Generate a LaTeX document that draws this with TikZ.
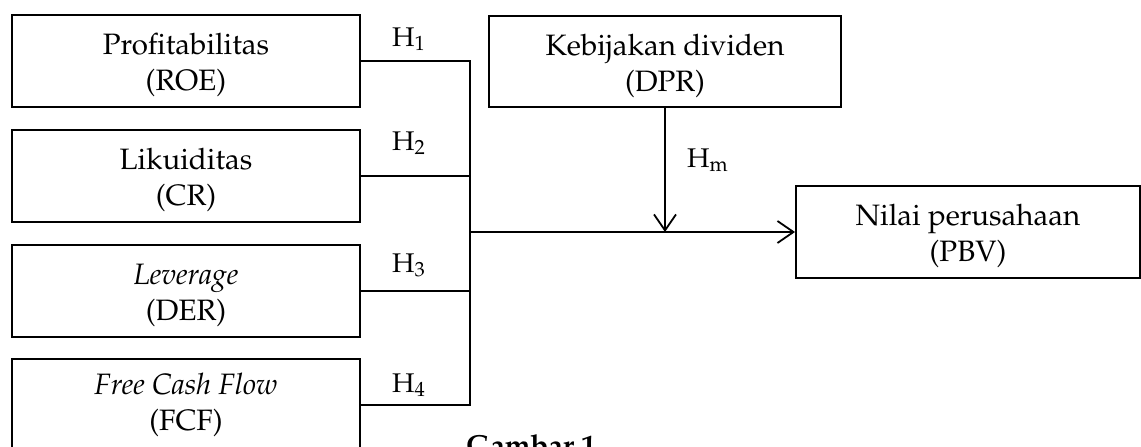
\documentclass[tikz,border=0pt]{standalone}
\usepackage[T1]{fontenc}
\usepackage{mathpazo}
\usetikzlibrary{arrows.meta}
\tikzset{
  box/.style={draw, line width=1.9pt, minimum width=348pt, minimum height=92pt, inner sep=0pt},
  lbl/.style={font=\fontsize{29.5}{36}\selectfont, align=center, inner sep=0pt},
  hyp/.style={font=\fontsize{27}{30}\selectfont, inner sep=0pt, anchor=base west},
  conn/.style={line width=1.8pt},
  arr/.style={conn, -{Straight Barb[length=16pt,width=22pt,line width=1.8pt]}},
  figcaption/.style={font=\fontsize{29}{34}\selectfont\bfseries, inner sep=0pt, anchor=base}
}
\begin{document}
\begin{tikzpicture}[x=1pt,y=-1pt]
  \clip (0,0) rectangle (1141,447);
  \fill[white] (0,0) rectangle (1141,447);
  % independent variable boxes
  \node[box] (p1) at (186,61)  {};
  \node[box] (p2) at (186,176) {};
  \node[box] (p3) at (186,291) {};
  \node[box] (p4) at (186,405) {};
  \node[lbl] (t1) at ([yshift=-4pt]p1.center) {Profitabilitas\\(ROE)};
  \node[lbl] (t2) at ([yshift=-4pt]p2.center) {Likuiditas\\(CR)};
  \node[lbl] (t3) at ([yshift=-4pt]p3.center) {\textit{Leverage}\\(DER)};
  \node[lbl] (t4) at (p4.center) {\textit{Free Cash Flow}\\(FCF)};
  % moderator and dependent
  \node[box, minimum width=352pt, minimum height=91pt] (dpr) at (665,61.5) {};
  \node[lbl] (t5) at ([yshift=-4pt]dpr.center) {Kebijakan dividen\\(DPR)};
  \node[box, minimum width=344pt] (pbv) at (968,232) {};
  \node[lbl] (t6) at ([yshift=-4pt]pbv.center) {Nilai perusahaan\\(PBV)};
  % bracket
  \coordinate (bx) at (470,232);
  \draw[conn] (p1.east) -- (p1.east -| bx) -- (p4.east -| bx) -- (p4.east);
  \draw[conn] (p2.east) -- (p2.east -| bx);
  \draw[conn] (p3.east) -- (p3.east -| bx);
  \draw[arr] (bx) -- (pbv.west);
  \draw[arr] (dpr.south) -- (dpr.south |- bx);
  % hypothesis labels
  \node[hyp] (h1) at (392,46)  {H\textsubscript{1}};
  \node[hyp] (h2) at (392,150) {H\textsubscript{2}};
  \node[hyp] (h3) at (392,272) {H\textsubscript{3}};
  \node[hyp] (h4) at (392,392) {H\textsubscript{4}};
  \node[hyp] (hm) at (687,167) {H\textsubscript{m}};
  % caption (cut off at bottom, as in the reference)
  \node[figcaption] (g) at (531,455) {Gambar 1};
\end{tikzpicture}
\end{document}
